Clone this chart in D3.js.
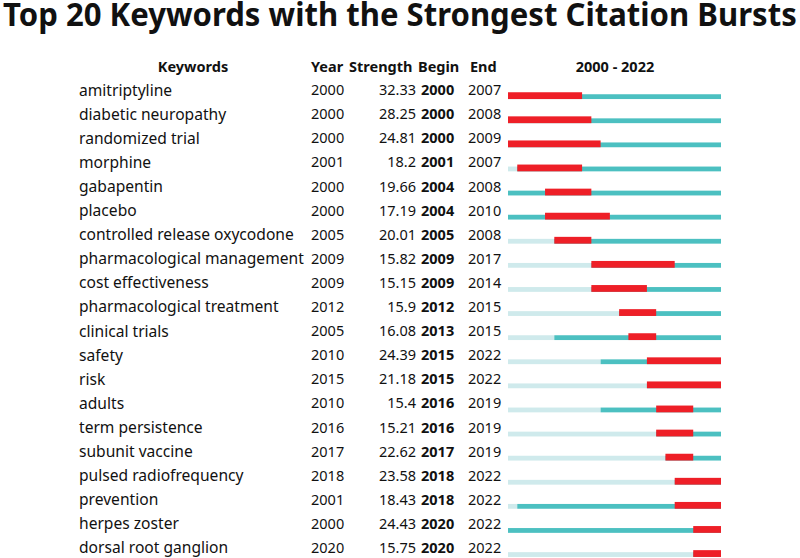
<!DOCTYPE html>
<html><head><meta charset="utf-8">
<script src="https://cdn.jsdelivr.net/npm/d3@7"></script>
<style>body{margin:0;background:#fff}svg{display:block}</style>
</head><body>
<svg id="c" width="800" height="558"></svg>
<script>
const keywords = ["amitriptyline","diabetic neuropathy","randomized trial","morphine","gabapentin","placebo","controlled release oxycodone","pharmacological management","cost effectiveness","pharmacological treatment","clinical trials","safety","risk","adults","term persistence","subunit vaccine","pulsed radiofrequency","prevention","herpes zoster","dorsal root ganglion"];
const years = [2000,2000,2000,2001,2000,2000,2005,2009,2009,2012,2005,2010,2015,2010,2016,2017,2018,2001,2000,2020];
const strengths = ["32.33","28.25","24.81","18.2","19.66","17.19","20.01","15.82","15.15","15.9","16.08","24.39","21.18","15.4","15.21","22.62","23.58","18.43","24.43","15.75"];
const begins = [2000,2000,2000,2001,2004,2004,2005,2009,2009,2012,2013,2015,2015,2016,2016,2017,2018,2018,2020,2020];
const ends = [2007,2008,2009,2007,2008,2010,2008,2017,2014,2015,2015,2022,2022,2019,2019,2019,2022,2022,2022,2022];
const rangeStart = 2000, rangeEnd = 2022;

const svg = d3.select("#c");
const font = "'Noto Sans', 'Open Sans', sans-serif";
const x = d3.scaleLinear().domain([rangeStart, rangeEnd + 1]).range([508, 721]);
const y = d3.scaleBand().domain(d3.range(keywords.length)).range([78, 560]);

// title (scaled horizontally to fit the reference width)
const title = svg.append("text")
  .attr("font-family", font).attr("font-weight", "bold").attr("font-size", 32.5)
  .attr("fill", "#111").text("Top 20 Keywords with the Strongest Citation Bursts");
const tw = title.node().getComputedTextLength();
title.attr("transform", `translate(3,26) scale(${794 / tw},1)`);

// headers
const hdr = svg.append("g").attr("font-family", font).attr("font-weight", "bold").attr("font-size", 14.5).attr("fill", "#111");
hdr.append("text").attr("x", 193).attr("y", 72).attr("text-anchor", "middle").text("Keywords");
hdr.append("text").attr("x", 311).attr("y", 72).text("Year");
hdr.append("text").attr("x", 349).attr("y", 72).text("Strength");
hdr.append("text").attr("x", 418).attr("y", 72).text("Begin");
hdr.append("text").attr("x", 470).attr("y", 72).text("End");
hdr.append("text").attr("x", 615).attr("y", 72).attr("text-anchor", "middle").text(rangeStart + " - " + rangeEnd);

const rows = svg.append("g").selectAll("g").data(keywords).join("g")
  .attr("transform", (d, i) => `translate(0,${y(i) + y.bandwidth() / 2})`);

const tf = {"font-family": font, "font-size": 14.5, "fill": "#111"};
function styled(sel){ for (const k in tf) sel.attr(k, tf[k]); return sel; }

styled(rows.append("text")).attr("x", 79).attr("dy", "0.35em").attr("font-size", 15.6).text(d => d);
styled(rows.append("text")).attr("x", 311).attr("dy", "0.35em").text((d, i) => years[i]);
styled(rows.append("text")).attr("x", 416).attr("dy", "0.35em").attr("text-anchor", "end").text((d, i) => strengths[i]);
styled(rows.append("text")).attr("x", 421).attr("dy", "0.35em").attr("font-weight", "bold").text((d, i) => begins[i]);
styled(rows.append("text")).attr("x", 468).attr("dy", "0.35em").text((d, i) => ends[i]);

// bars
rows.append("rect").attr("x", x(rangeStart)).attr("y", 4.2)
  .attr("width", (d, i) => x(years[i]) - x(rangeStart)).attr("height", 4.8).attr("fill", "#cfeaec");
rows.append("rect").attr("x", (d, i) => x(years[i])).attr("y", 4.2)
  .attr("width", (d, i) => x(rangeEnd + 1) - x(years[i])).attr("height", 4.8).attr("fill", "#4cc0c1");
rows.append("rect").attr("x", (d, i) => x(begins[i])).attr("y", 2.2)
  .attr("width", (d, i) => x(ends[i] + 1) - x(begins[i])).attr("height", 6.8).attr("fill", "#ee1f27");
</script>
</body></html>
